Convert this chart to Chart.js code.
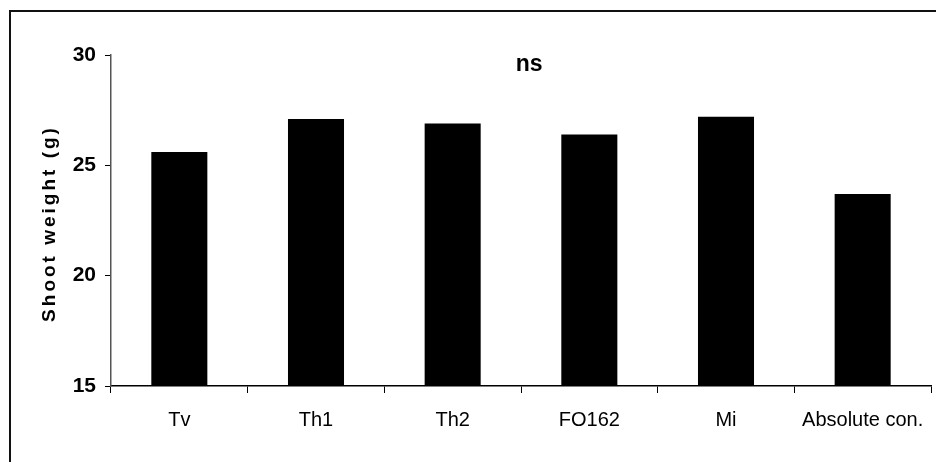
<!DOCTYPE html>
<html>
<head>
<meta charset="utf-8">
<script src="https://cdn.jsdelivr.net/npm/chart.js@4"></script>
<style>
    html, body { margin: 0; padding: 0; background: #fff; }
    canvas { display: block; }
</style>
</head>
<body>
<canvas id="chart" width="936" height="462"></canvas>
<script>
const categories = ['Tv', 'Th1', 'Th2', 'FO162', 'Mi', 'Absolute con.'];
const shootWeight = [25.6, 27.1, 26.9, 26.4, 27.2, 23.7];
const yTicks = [15, 20, 25, 30];
const yTitle = 'Shoot weight (g)';
const note = 'ns';

const font = 'Liberation Sans, Arial, sans-serif';

// frame around the figure + the "ns" note + spaced y title
const decor = {
    id: 'decor',
    beforeDraw(chart) {
        const ctx = chart.ctx;
        ctx.save();
        ctx.fillStyle = '#fff';
        ctx.fillRect(0, 0, chart.width, chart.height);
        ctx.strokeStyle = '#111';
        ctx.lineWidth = 2;
        ctx.beginPath();
        ctx.moveTo(10, chart.height + 5);
        ctx.lineTo(10, 11);
        ctx.lineTo(chart.width + 5, 11);
        ctx.stroke();
        ctx.restore();
    },
    afterDraw(chart) {
        const ctx = chart.ctx;
        const area = chart.chartArea;
        ctx.save();
        ctx.fillStyle = '#000';
        ctx.textAlign = 'center';
        ctx.textBaseline = 'middle';
        ctx.font = `bold 23px ${font}`;
        ctx.fillText(note, area.left + (area.right - area.left) * 0.51, area.top + 10);

        ctx.translate(50, (area.top + area.bottom) / 2 + 3);
        ctx.rotate(-Math.PI / 2);
        ctx.font = `bold 19px ${font}`;
        ctx.letterSpacing = '3px';
        ctx.fillText(yTitle, 0, 0);
        ctx.restore();
    }
};

new Chart(document.getElementById('chart').getContext('2d'), {
    type: 'bar',
    data: {
        labels: categories,
        datasets: [{
            data: shootWeight,
            backgroundColor: '#000',
            borderWidth: 0,
            categoryPercentage: 1,
            barPercentage: 0.41
        }]
    },
    options: {
        responsive: false,
        animation: false,
        layout: { padding: { top: 55, right: 5, left: 0, bottom: 0 } },
        plugins: {
            legend: { display: false },
            tooltip: { enabled: false }
        },
        scales: {
            x: {
                afterFit: (scale) => {
                    scale.height = 76;
                    scale.paddingRight = 0;
                    scale.paddingLeft = 0;
                },
                grid: {
                    offset: true,
                    drawOnChartArea: false,
                    tickLength: 7,
                    color: '#000'
                },
                border: { color: '#000', width: 1.5 },
                ticks: {
                    color: '#000',
                    padding: 15,
                    maxRotation: 0,
                    font: { family: font, size: 20 }
                }
            },
            y: {
                min: 15,
                max: 30,
                afterFit: (scale) => { scale.width = 111; },
                afterBuildTicks: (scale) => {
                    scale.ticks = yTicks.map(v => ({ value: v }));
                },
                grid: {
                    drawOnChartArea: false,
                    tickLength: 6,
                    color: '#000'
                },
                border: { color: '#555', width: 1.5 },
                ticks: {
                    color: '#000',
                    padding: 9,
                    font: { family: font, size: 21, weight: 'bold' }
                }
            }
        }
    },
    plugins: [decor]
});
</script>
</body>
</html>
